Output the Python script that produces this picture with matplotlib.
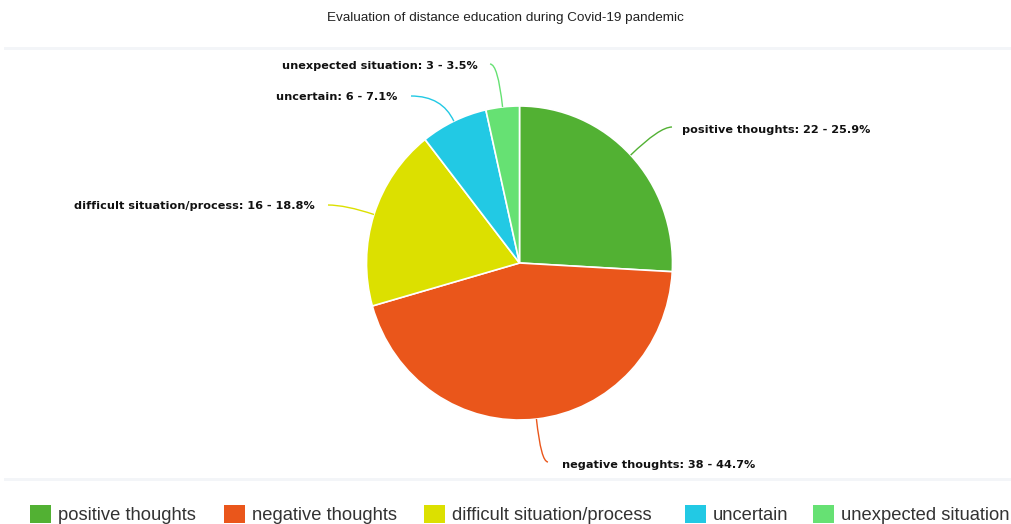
import numpy as np
import matplotlib.pyplot as plt
from matplotlib.path import Path
from matplotlib.patches import PathPatch, Rectangle

categories = ['positive thoughts', 'negative thoughts', 'difficult situation/process',
              'uncertain', 'unexpected situation']
counts = [22, 38, 16, 6, 3]
colors = ['#52b133', '#ea561b', '#dce000', '#22c9e4', '#66e173']

W, H = 1011, 524
cx, cy = 519.5, 263.0   # pie centre, pixels from top-left
rx, ry = 153.0, 157.0

def dx(x):
    return (x - cx) / rx

def dy(y):
    return (cy - y) / ry

fig = plt.figure(figsize=(W / 100, H / 100), dpi=100)
fig.patch.set_facecolor('white')
ax = fig.add_axes([0, 0, 1, 1])

wedges, _ = ax.pie(counts, colors=colors, startangle=90, counterclock=False,
                   wedgeprops=dict(edgecolor='white', linewidth=1.2))
ax.set_aspect('auto')
ax.set_xlim(dx(0), dx(W))
ax.set_ylim(dy(H), dy(0))
ax.axis('off')

total = sum(counts)
# label placement: end of leader line (px), text anchor (px), alignment
ends = [(672, 127), (548, 462), (328, 205), (411, 96), (490, 64)]
texts = [(682, 130), (562, 465), (315, 206), (397, 97), (478, 66)]
aligns = ['left', 'left', 'right', 'right', 'right']

for w, cat, n, col, e, t, ha in zip(wedges, categories, counts, colors, ends, texts, aligns):
    mid = np.deg2rad((w.theta1 + w.theta2) / 2)
    sx, sy = np.cos(mid), np.sin(mid)
    ex, ey = dx(e[0]), dy(e[1])
    # control point where the radial direction meets the horizontal end line
    k = (ey - sy) / sy
    ctl = (sx + k * sx, ey)
    path = Path([(sx, sy), ctl, (ex, ey)], [Path.MOVETO, Path.CURVE3, Path.CURVE3])
    ax.add_patch(PathPatch(path, fill=False, edgecolor=col, lw=1.0))
    pct = 100 * n / total
    ax.text(dx(t[0]), dy(t[1]), f'{cat}: {n} - {pct:.1f}%', ha=ha, va='center',
            fontsize=8.1, fontweight='bold', family='DejaVu Sans',
            color='#111111')

# faint separator bands
for yb in (48.5, 479):
    ax.add_patch(Rectangle((dx(4), dy(yb + 1.5)), dx(W) - dx(4), 3.0 / ry,
                           facecolor='#f3f5f8', edgecolor='none'))

fig.text(0.5, 1 - 17.5 / H, 'Evaluation of distance education during Covid-19 pandemic',
         ha='center', va='center', fontsize=9.7, family='Liberation Sans',
         color='#222222')

# legend along the bottom
leg_x = [30, 224, 424, 685, 813]
for x0, cat, col in zip(leg_x, categories, colors):
    fig.patches.append(Rectangle((x0, H - 523), 21, 18, transform=None,
                                 facecolor=col, edgecolor='none', figure=fig))
    fig.text((x0 + 28) / W, 1 - 515 / H, cat, ha='left', va='center', fontsize=13.2,
             family='Liberation Sans', color='#333333')

fig.savefig('out.png', dpi=100, facecolor='white')
